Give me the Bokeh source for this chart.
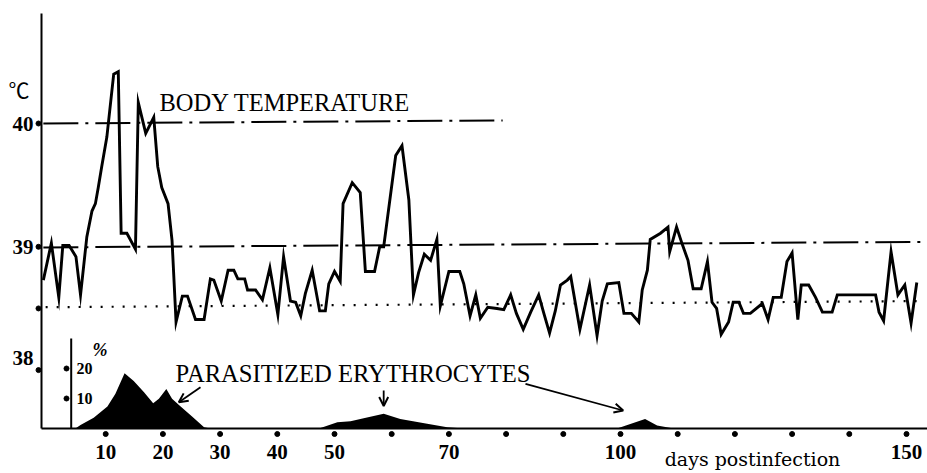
from bokeh.plotting import figure
from bokeh.models import Range1d, Arrow, OpenHead
from bokeh.core.properties import value
from bokeh.embed import file_html
from bokeh.resources import INLINE

# Body temperature (deg C) against days post infection
temp_days = [-0.9, 0.5, 1.8, 2.5, 3.6, 4.8, 5.6, 6.7, 7.6, 8.2,
             8.7, 9.3, 10.2, 11.4, 12.2, 12.7, 13.7, 15.2, 15.7, 17.0,
             18.4, 19.1, 19.8, 20.9, 21.6, 22.3, 23.4, 24.3, 25.7, 27.2,
             28.3, 28.9, 30.2, 31.4, 32.4, 33.1, 34.3, 34.8, 36.2, 37.4,
             38.7, 40.1, 41.1, 42.3, 43.2, 44.1, 44.9, 46.1, 47.4, 48.4,
             49.0, 50.0, 51.0, 51.5, 53.1, 54.5, 55.4, 57.0, 57.9, 58.6,
             60.7, 61.8, 63.0, 63.8, 64.7, 65.7, 66.8, 67.9, 68.5, 70.0,
             71.9, 72.6, 73.7, 74.7, 75.5, 76.8, 78.4, 79.6, 80.8, 81.8,
             83.0, 84.3, 85.7, 86.6, 87.6, 88.6, 89.5, 90.7, 91.3, 92.9,
             94.6, 95.9, 96.8, 97.7, 99.7, 100.6, 101.9, 103.2, 103.8, 104.7,
             105.2, 107.0, 108.3, 108.6, 109.8, 110.8, 111.8, 112.7, 114.1, 115.2,
             116.0, 116.8, 117.6, 118.9, 119.7, 120.7, 121.5, 122.7, 124.8, 125.8,
             126.7, 128.1, 129.1, 130.0, 131.0, 131.6, 132.9, 134.1, 135.3, 137.0,
             137.9, 144.6, 145.2, 146.0, 147.3, 148.5, 149.7, 150.8, 151.8]
temp_vals = [38.73, 39.03, 38.59, 39.01, 39.01, 38.92, 38.61, 39.08, 39.29, 39.35,
             39.48, 39.65, 39.89, 40.40, 40.42, 39.11, 39.11, 38.98, 40.17, 39.92,
             40.05, 39.65, 39.48, 39.35, 39.05, 38.39, 38.60, 38.60, 38.41, 38.41,
             38.74, 38.73, 38.56, 38.81, 38.81, 38.74, 38.74, 38.65, 38.65, 38.57,
             38.83, 38.45, 38.92, 38.56, 38.55, 38.44, 38.62, 38.81, 38.48, 38.48,
             38.70, 38.80, 38.72, 39.35, 39.52, 39.44, 38.80, 38.80, 39.00, 39.00,
             39.74, 39.82, 39.38, 38.61, 38.79, 38.94, 38.89, 39.06, 38.52, 38.80,
             38.80, 38.70, 38.44, 38.61, 38.42, 38.51, 38.50, 38.49, 38.61, 38.46,
             38.33, 38.47, 38.61, 38.46, 38.30, 38.48, 38.69, 38.73, 38.76, 38.33,
             38.69, 38.28, 38.56, 38.70, 38.71, 38.46, 38.46, 38.39, 38.65, 38.81,
             39.06, 39.11, 39.16, 38.96, 39.16, 39.02, 38.89, 38.66, 38.66, 38.88,
             38.55, 38.50, 38.29, 38.39, 38.55, 38.55, 38.46, 38.46, 38.54, 38.41,
             38.59, 38.59, 38.88, 38.95, 38.41, 38.69, 38.69, 38.59, 38.47, 38.47,
             38.61, 38.61, 38.47, 38.40, 38.96, 38.61, 38.69, 38.38, 38.71]

# Parasitized erythrocytes (%)
para_days = [4.7, 5.6, 7.9, 10.3, 11.7, 13.3, 14.9, 16.7, 18.3, 19.3,
             20.6, 21.6, 23.1, 25.1, 27.2, 28.3, 47.3, 50.5, 52.8, 55.1,
             58.6, 61.5, 66.2, 69.7, 72.6, 99.4, 101.2, 104.3, 106.4, 109.3]
para_pct = [0.0, 1.2, 3.6, 7.3, 11.6, 18.4, 15.8, 12.1, 8.4, 9.9,
            13.2, 9.9, 7.3, 4.0, 0.4, 0.0, 0.0, 2.1, 2.4, 3.4,
            4.9, 3.2, 1.6, 0.4, 0.0, 0.0, 1.2, 3.2, 1.0, 0.0]

# Reference levels: (start day, end day), (start value, end value)
line_40_days, line_40_vals = [-0.9, 79.4], [40.0, 40.025]
line_39_days, line_39_vals = [-0.9, 152.7], [38.995, 39.04]
line_mean_days, line_mean_vals = [-0.5, 152.7], [38.51, 38.56]

# Axis ticks
x_ticks = [10, 20, 30, 40, 50, 60, 70, 80, 90, 100, 110, 120, 130, 140, 150]
x_tick_labels = ["10", "20", "30", "40", "50", "", "70", "", "", "100",
                 "", "", "", "", "150"]
y_ticks = [40, 39, 38.5, 38]
pct_ticks = [10, 20]
pct_tick_labels = ["10", "20"]

# Canvas geometry
W, H = 927, 473
PX_PER_DAY = 5.72
X_DAY0 = 48
PX_PER_DEG = 123.3
Y_DEG40 = 123
PX_PER_PCT = 3.0
Y_BASE = 428


def day_at(px):
    return (px - X_DAY0) / PX_PER_DAY


def deg_at(py):
    return 40 - (py - Y_DEG40) / PX_PER_DEG


def pct_at(py):
    return (Y_BASE - py) / PX_PER_PCT


p = figure(width=W, height=H,
           x_range=Range1d(day_at(0), day_at(W)),
           y_range=Range1d(deg_at(H), deg_at(0)),
           x_axis_type=None, y_axis_type=None,
           output_backend="svg", toolbar_location=None, min_border=0)
p.extra_y_ranges = {"pct": Range1d(pct_at(H), pct_at(0))}
p.outline_line_color = None
p.background_fill_color = "white"
p.border_fill_color = "white"

SERIF = value("Liberation Serif")
INK = "black"

# axes
ax_day = day_at(41)
base = deg_at(Y_BASE)
p.segment(x0=[ax_day, ax_day], y0=[base, base],
          x1=[ax_day, day_at(W)], y1=[deg_at(13), base],
          line_width=2, color=INK)

# day axis: dot ticks and labels
p.scatter(x=x_ticks, y=[deg_at(433.5)] * len(x_ticks), size=5, color=INK)
p.text(x=x_ticks, y=[deg_at(451)] * len(x_ticks), text=x_tick_labels,
       text_align="center", text_baseline="middle", text_font=SERIF,
       text_font_size="21px", text_font_style="bold", text_color=INK)

# temperature axis: dot ticks and labels
p.scatter(x=[day_at(38)] * len(y_ticks), y=y_ticks, size=5, color=INK)
p.text(x=[day_at(33)] * 2, y=[40, 39], text=["40", "39"],
       text_align="right", text_baseline="middle", text_font=SERIF,
       text_font_size="21px", text_font_style="bold", text_color=INK)
p.text(x=[day_at(33)], y=[38], text=["38"], y_offset=-12,
       text_align="right", text_baseline="middle", text_font=SERIF,
       text_font_size="21px", text_font_style="bold", text_color=INK)
p.text(x=[day_at(18.5)], y=[deg_at(88.5)], text=["\u2103"],
       text_align="center", text_baseline="middle",
       text_font=value("Noto Sans CJK JP"), text_font_size="21px",
       text_color=INK)

# parasitaemia axis
p.segment(x0=[day_at(70.7)], y0=[0], x1=[day_at(70.7)], y1=[30],
          y_range_name="pct", line_width=2, color=INK)
p.scatter(x=[day_at(66)] * 2, y=pct_ticks, y_range_name="pct", size=5, color=INK)
p.text(x=[day_at(76)] * 2, y=pct_ticks, text=pct_tick_labels, y_range_name="pct",
       text_align="left", text_baseline="middle", text_font=SERIF,
       text_font_size="16px", text_font_style="bold", text_color=INK)
p.text(x=[day_at(92)], y=[pct_at(349)], text=["%"], y_range_name="pct",
       text_align="left", text_baseline="middle", text_font=SERIF,
       text_font_size="18px", text_font_style="bold italic", text_color=INK)

# reference levels
p.line(line_40_days, line_40_vals, line_width=2, color=INK, line_dash="35 7 3 7")
p.line(line_39_days, line_39_vals, line_width=2, color=INK, line_dash="35 7 3 7")
p.line(line_mean_days, line_mean_vals, line_width=2.2, color=INK, line_dash="2 9")

# parasitized erythrocytes
p.varea(x=para_days, y1=[0] * len(para_days), y2=para_pct,
        y_range_name="pct", fill_color=INK)

# body temperature
p.line(temp_days, temp_vals, line_width=2.9, color=INK, line_join="miter")

# captions
p.text(x=[day_at(159)], y=[deg_at(101.7)], text=["BODY TEMPERATURE"],
       text_align="left", text_baseline="middle", text_font=SERIF,
       text_font_size="24.5px", text_color=INK)
p.text(x=[day_at(175)], y=[deg_at(372.5)], text=["PARASITIZED ERYTHROCYTES"],
       text_align="left", text_baseline="middle", text_font=SERIF,
       text_font_size="24.6px", text_color=INK)
p.text(x=[day_at(752)], y=[deg_at(458.5)], text=["days postinfection"],
       text_align="center", text_baseline="middle",
       text_font=value("DejaVu Serif"), text_font_size="19px", text_color=INK)

# pointers from the caption to each wave of parasitaemia
pointers = [
    (day_at(200), deg_at(386.7), day_at(178.3), deg_at(401.7)),
    (58.6, deg_at(390), 58.6, deg_at(405.5)),
    (day_at(525), deg_at(383.3), day_at(622.7), deg_at(410)),
]
for xs, ys, xe, ye in pointers:
    p.add_layout(Arrow(end=OpenHead(size=9, line_width=2, line_color=INK),
                       x_start=xs, y_start=ys, x_end=xe, y_end=ye,
                       line_width=1.8, line_color=INK))

open("out.html", "w").write(file_html(p, INLINE))
